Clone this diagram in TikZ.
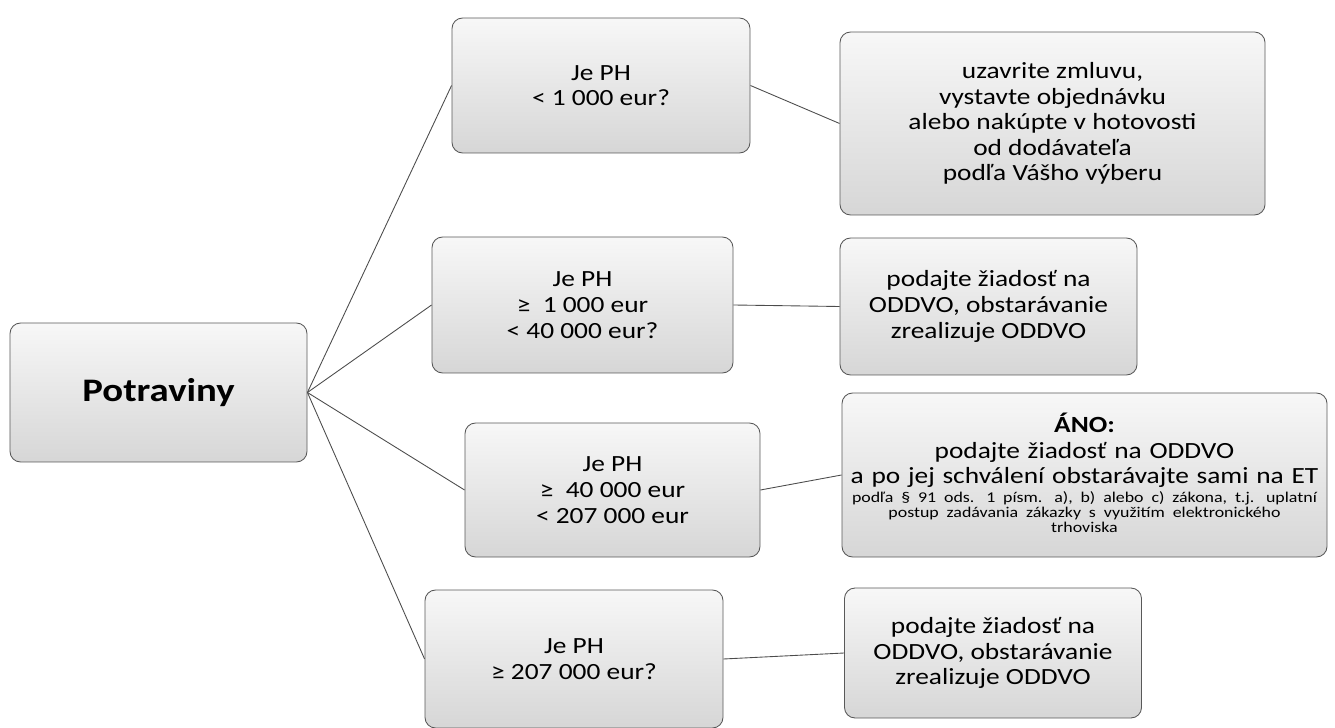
\documentclass[tikz,border=0pt]{standalone}
\usepackage{fontspec}
\usepackage{graphicx}
\setmainfont{Carlito}[FakeStretch=1.18]

\tikzset{
    box/.style={draw=gray!70!black, line width=0.5pt, rounded corners=6pt,
        top color=gray!6, bottom color=gray!32, align=center, inner sep=2pt,
        font=\fontsize{13.2}{14.6}\selectfont},
    link/.style={draw=gray!60!black, line width=0.5pt}
}

\begin{document}
\begin{tikzpicture}
    \useasboundingbox (0,0) rectangle (26.7,-14.56);

    % root
    \node (p0) at (3.17,-7.85) [box, minimum width=5.94cm, minimum height=2.78cm,
        font=\fontsize{18.7}{22}\selectfont\bfseries] {Potraviny};

    % questions
    \node (q1) at (12.02,-1.71) [box, minimum width=5.96cm, minimum height=2.70cm] {Je PH\\< 1 000 eur?};
    \node (q2) at (11.65,-6.10) [box, minimum width=6.02cm, minimum height=2.72cm] {Je PH\\≥ \ 1 000 eur\\< 40 000 eur?};
    \node (q3) at (12.25,-9.80) [box, minimum width=5.90cm, minimum height=2.68cm] {Je PH\\≥ \ 40 000 eur\\< 207 000 eur};
    \node (q4) at (11.48,-13.18) [box, minimum width=5.96cm, minimum height=2.76cm] {Je PH\\≥ 207 000 eur?};

    % answers
    \node (r1) at (21.05,-2.47) [box, minimum width=8.50cm, minimum height=3.66cm] {uzavrite zmluvu,\\vystavte objednávku\\alebo nakúpte v hotovosti\\od dodávateľa\\podľa Vášho výberu};
    \node (r2) at (19.77,-6.13) [box, minimum width=5.94cm, minimum height=2.74cm] {podajte žiadosť na\\ODDVO, obstarávanie\\zrealizuje ODDVO};
    \node (r3) at (21.69,-9.50) [box, minimum width=9.70cm, minimum height=3.28cm, text width=9.5cm] {\textbf{ÁNO:}\\podajte žiadosť na ODDVO\\a po jej schválení obstarávajte sami na ET\\[1pt]
        \resizebox{9.3cm}{\height}{\fontsize{8.5}{8.6}\selectfont\begin{tabular}{@{}c@{}}podľa § 91 ods. 1 písm. a), b) alebo c) zákona, t.j. uplatní\\postup zadávania zákazky s využitím elektronického\\trhoviska\end{tabular}}};
    \node (r4) at (19.86,-13.06) [box, minimum width=5.94cm, minimum height=2.60cm] {podajte žiadosť na\\ODDVO, obstarávanie\\zrealizuje ODDVO};

    \draw [link] (p0.east) -- (q1.west);
    \draw [link] (p0.east) -- (q2.west);
    \draw [link] (p0.east) -- (q3.west);
    \draw [link] (p0.east) -- (q4.west);

    \draw [link] (q1.east) -- (r1.west);
    \draw [link] (q2.east) -- (r2.west);
    \draw [link] (q3.east) -- (r3.west);
    \draw [link] (q4.east) -- (r4.west);
\end{tikzpicture}
\end{document}
